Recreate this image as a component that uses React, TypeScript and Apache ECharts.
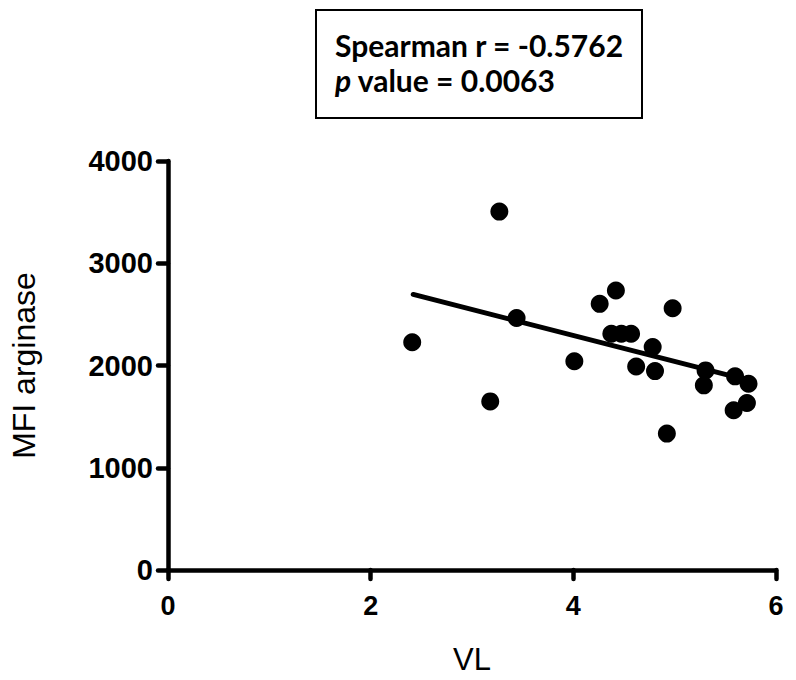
import React, { useEffect, useRef } from "react";
import * as echarts from "echarts";

const vl = [2.41, 3.27, 3.18, 3.44, 4.01, 4.26, 4.42, 4.375, 4.474, 4.57, 4.98, 4.783, 4.62, 4.806, 4.923, 5.305, 5.288, 5.596, 5.729, 5.713, 5.582];
const mfi = [2227, 3505, 1649, 2465, 2042, 2603, 2733, 2310, 2310, 2310, 2560, 2180, 1991, 1945, 1334, 1952, 1806, 1894, 1822, 1633, 1562];
const fitX = [2.42, 5.74];
const fitY = [2695, 1852];
const xTicks = [0, 2, 4, 6];
const yTicks = [0, 1000, 2000, 3000, 4000];
const statLine1 = "Spearman r = -0.5762";
const statLine2 = " value = 0.0063";

export default function App() {
  const ref = useRef<HTMLDivElement>(null);
  useEffect(() => {
    const chart = echarts.init(ref.current!, null, { renderer: "svg" });
    const font = "'Liberation Sans', Arial, sans-serif";
    const boxFont = "Lato, 'Open Sans', sans-serif";
    chart.setOption({
      animation: false,
      backgroundColor: "#ffffff",
      grid: { left: 163, right: 20, top: 161, bottom: 110, containLabel: false },
      xAxis: {
        type: "value",
        min: xTicks[0],
        max: xTicks[xTicks.length - 1],
        interval: 2,
        name: "VL",
        nameLocation: "middle",
        nameGap: 74,
        nameTextStyle: { fontFamily: font, fontSize: 31, color: "#000" },
        axisLine: { show: true, lineStyle: { color: "#000", width: 4.5, cap: "round" } },
        axisTick: { show: true, length: 9, lineStyle: { color: "#000", width: 4.5, cap: "round" } },
        axisLabel: { fontFamily: font, fontSize: 27, fontWeight: "bold", color: "#000", margin: 22, formatter: (v: number) => String(v) },
        splitLine: { show: false },
      },
      yAxis: {
        type: "value",
        min: yTicks[0],
        max: yTicks[yTicks.length - 1],
        interval: 1000,
        name: "MFI arginase",
        nameLocation: "middle",
        nameRotate: 90,
        nameGap: 128,
        nameTextStyle: { fontFamily: font, fontSize: 32, color: "#000" },
        axisLine: { show: true, lineStyle: { color: "#000", width: 4.5, cap: "round" } },
        axisTick: { show: true, length: 10, lineStyle: { color: "#000", width: 4.5, cap: "round" } },
        axisLabel: { fontFamily: font, fontSize: 29, fontWeight: "bold", color: "#000", margin: 15, formatter: (v: number) => String(v) },
        splitLine: { show: false },
      },
      series: [
        {
          type: "line",
          data: fitX.map((x, i) => [x, fitY[i]]),
          symbol: "none",
          lineStyle: { color: "#000", width: 5, cap: "round" },
          z: 2,
        },
        {
          type: "scatter",
          data: vl.map((x, i) => [x, mfi[i]]),
          symbol: "circle",
          symbolSize: 18,
          itemStyle: { color: "#000", opacity: 1 },
          z: 3,
        },
      ],
      graphic: [
        {
          type: "rect",
          shape: { x: 316, y: 10, width: 326, height: 108 },
          style: { fill: "#fff", stroke: "#000", lineWidth: 2 },
        },
        {
          type: "text",
          x: 335,
          y: 45,
          style: {
            text: statLine1,
            font: "bold 30px " + boxFont,
            lineHeight: 30,
            fill: "#000",
            verticalAlign: "middle",
          },
        },
        {
          type: "text",
          x: 335,
          y: 80,
          style: {
            text: "{i|p}" + statLine2,
            font: "bold 30px " + boxFont,
            lineHeight: 30,
            fill: "#000",
            verticalAlign: "middle",
            rich: {
              i: { fontStyle: "italic", fontWeight: "bold", fontSize: 30, lineHeight: 30, fontFamily: boxFont },
            },
          },
        },
      ],
    });
    return () => chart.dispose();
  }, []);
  return <div ref={ref} style={{ width: 796, height: 680, margin: -8 }} />;
}
